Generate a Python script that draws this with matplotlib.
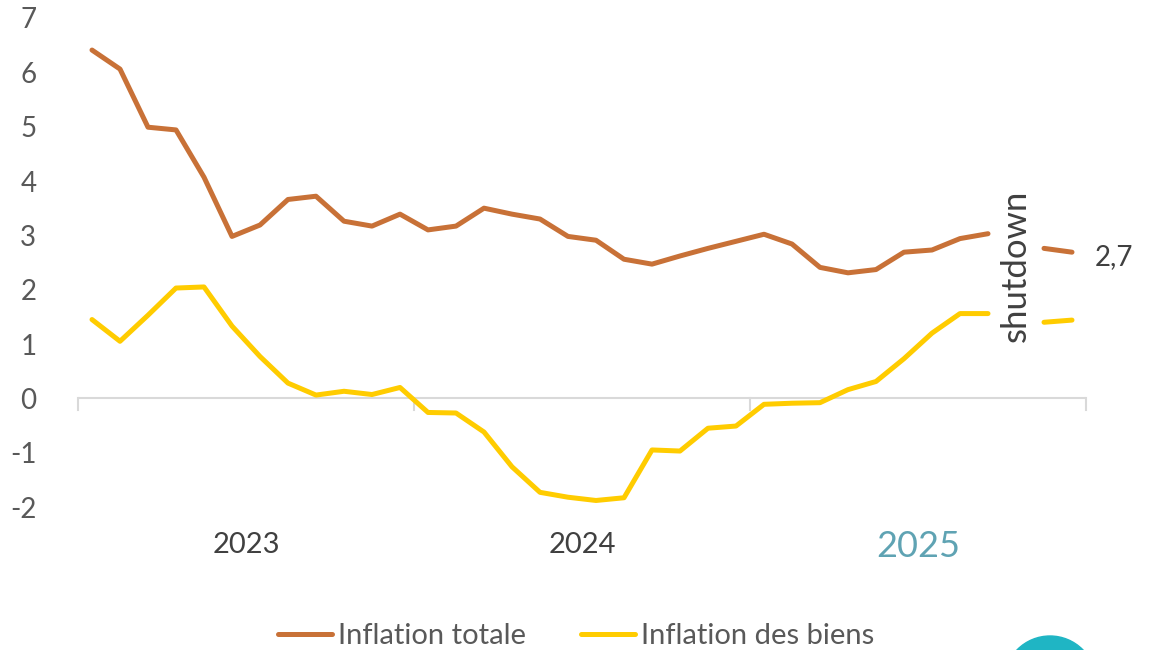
import numpy as np
import matplotlib.pyplot as plt
from matplotlib.patches import Ellipse

plt.rcParams['font.family'] = ['Lato', 'DejaVu Sans']

# monthly values, Jan 2023 -> Dec 2025 (Oct 2025 missing: shutdown)
headline = [6.41, 6.06, 4.99, 4.94, 4.07, 2.98, 3.19, 3.66, 3.72, 3.26, 3.17, 3.39,
            3.10, 3.17, 3.50, 3.39, 3.30, 2.98, 2.91, 2.56, 2.47, 2.62, 2.76, 2.89,
            3.02, 2.84, 2.41, 2.31, 2.37, 2.69, 2.73, 2.94, 3.03, np.nan, 2.76, 2.69]
goods = [1.45, 1.05, 1.53, 2.03, 2.05, 1.33, 0.77, 0.28, 0.06, 0.13, 0.07, 0.20,
         -0.26, -0.27, -0.62, -1.26, -1.73, -1.82, -1.88, -1.83, -0.95, -0.97, -0.55, -0.51,
         -0.11, -0.09, -0.08, 0.16, 0.31, 0.73, 1.20, 1.56, 1.56, np.nan, 1.40, 1.44]
years = ['2023', '2024', '2025']
last_label = '2,7'

c_head = '#c87137'
c_goods = '#ffcc00'
c_text = '#595959'

W, H = 1158, 650
fig = plt.figure(figsize=(W / 100, H / 100), dpi=100)
ax = fig.add_axes([78 / W, 1 - 507 / H, (1086 - 78) / W, (507 - 18) / H])

x = np.arange(len(headline))
ax.plot(x, headline, color=c_head, lw=3.6, solid_capstyle='round', label='Inflation totale')
ax.plot(x, goods, color=c_goods, lw=3.6, solid_capstyle='round', label='Inflation des biens')

ax.set_xlim(-0.5, len(headline) - 0.5)
ax.set_ylim(-2, 7)
ax.set_yticks(range(-2, 8))
ax.set_yticklabels([str(v) for v in range(-2, 8)])
ax.tick_params(axis='y', length=0, pad=30, labelsize=20, labelcolor=c_text)
ax.set_xticks([])

for s in ['top', 'right', 'left', 'bottom']:
    ax.spines[s].set_visible(False)
ax.axhline(0, color='#d9d9d9', lw=1.5, zorder=0)
for i in range(4):
    ax.plot([i * 12 - 0.5] * 2, [0, -0.22], color='#d9d9d9', lw=1.5, clip_on=False, zorder=0)

for i, yr in enumerate(years):
    if yr == '2025':
        ax.text(i * 12 + 5.5, -2.72, yr, ha='center', va='center',
                fontsize=26, color='#5fa3b3', clip_on=False)
    else:
        ax.text(i * 12 + 5.5, -2.7, yr, ha='center', va='center',
                fontsize=21, color='#404040', clip_on=False)

ax.text(33, 2.43, 'shutdown', rotation=90, ha='center', va='center',
        fontsize=25, color='#404040')
ax.text(35.8, 2.6, last_label, ha='left', va='center', fontsize=20, color='#404040',
        clip_on=False)

ax.legend(loc='center', bbox_to_anchor=(576 / W, 1 - 636 / H), bbox_transform=fig.transFigure,
          ncol=2, frameon=False, fontsize=21, labelcolor=c_text, handlelength=1.85,
          handletextpad=0.2, columnspacing=1.9)

fig.add_artist(Ellipse((1050 / W, 1 - 682 / H), 92 / W, 92 / H, transform=fig.transFigure,
                       color='#1fb5c4', zorder=5))

fig.savefig('out.png', dpi=100)
